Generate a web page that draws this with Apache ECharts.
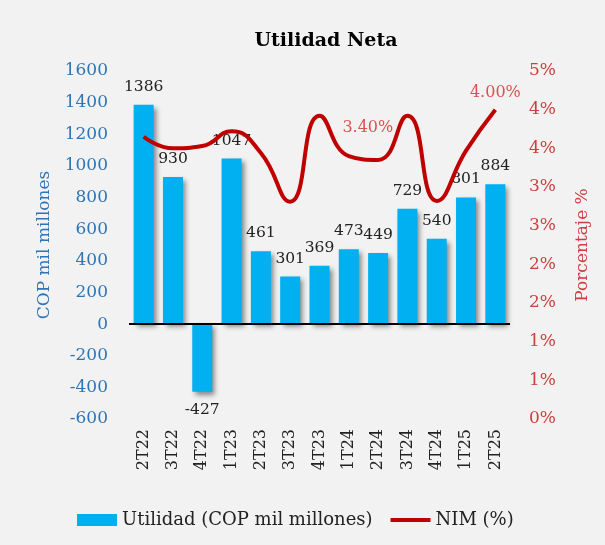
<!DOCTYPE html>
<html>
<head>
<meta charset="utf-8">
<script src="https://cdn.jsdelivr.net/npm/echarts@6/dist/echarts.min.js"></script>
<style>
  html, body { margin: 0; padding: 0; background: #f2f2f2; }
  #chart { width: 605px; height: 545px; }
</style>
</head>
<body>
<div id="chart"></div>
<script>
// datos
const categories = ['2T22', '3T22', '4T22', '1T23', '2T23', '3T23', '4T23', '1T24', '2T24', '3T24', '4T24', '1T25', '2T25']
const utilidad = [1386, 930, -427, 1047, 461, 301, 369, 473, 449, 729, 540, 801, 884]
const nim = [3.65, 3.50, 3.53, 3.72, 3.44, 2.81, 3.92, 3.40, 3.35, 3.92, 2.82, 3.47, 4.00]
const nimLabelIdx = [7, 12] // solo estos puntos llevan etiqueta
const leftAxis = { min: -600, max: 1600, interval: 200 }
const rightAxis = { min: 0, max: 4.5, interval: 0.5 }

const serif = 'DejaVu Serif'
const chart = echarts.init(document.getElementById('chart'))

const barData = utilidad.map(v => ({
  value: v,
  label: { position: v < 0 ? 'bottom' : 'top' }
}))

const lineLabelOffset = { 7: [19, -15], 12: [0, -4] }
const lineData = nim.map((v, i) => {
  const item = { value: v }
  if (nimLabelIdx.includes(i)) {
    item.label = { show: true, offset: lineLabelOffset[i] }
  }
  return item
})

const option = {
  backgroundColor: '#f2f2f2',
  animation: false,
  title: {
    text: 'Utilidad Neta',
    left: 321,
    top: 27,
    textAlign: 'center',
    textStyle: { fontFamily: serif, fontSize: 19, fontWeight: 'bold', color: '#000' }
  },
  legend: {
    left: 72,
    top: 506,
    itemGap: 16,
    itemWidth: 40,
    itemHeight: 12,
    textStyle: { fontFamily: serif, fontSize: 18, color: '#222' },
    data: [
      { name: 'Utilidad (COP mil millones)', icon: 'rect' },
      { name: 'NIM (%)', itemStyle: { opacity: 0 }, lineStyle: { width: 4 } }
    ]
  },
  grid: { left: 129, right: 95, top: 71, bottom: 126 },
  xAxis: {
    type: 'category',
    data: categories,
    axisLine: { show: false },
    axisTick: { show: false },
    axisLabel: {
      rotate: 90,
      margin: 10,
      fontFamily: serif,
      fontSize: 16,
      color: '#222'
    }
  },
  yAxis: [
    {
      type: 'value',
      min: leftAxis.min,
      max: leftAxis.max,
      interval: leftAxis.interval,
      name: 'COP mil millones',
      nameLocation: 'middle',
      nameGap: 76,
      nameTextStyle: { fontFamily: serif, fontSize: 17, color: '#2e75b6' },
      splitLine: { show: false },
      axisLine: { show: false },
      axisTick: { show: false },
      axisLabel: {
        margin: 21,
        fontFamily: serif,
        fontSize: 17,
        color: '#2e75b6',
        formatter: v => String(v)
      }
    },
    {
      type: 'value',
      min: rightAxis.min,
      max: rightAxis.max,
      interval: rightAxis.interval,
      name: 'Porcentaje %',
      nameLocation: 'middle',
      nameGap: 64,
      nameRotate: 90,
      nameTextStyle: { fontFamily: serif, fontSize: 17, color: '#c9403f' },
      splitLine: { show: false },
      axisLine: { show: false },
      axisTick: { show: false },
      axisLabel: {
        margin: 19,
        fontFamily: serif,
        fontSize: 17,
        color: '#c9403f',
        formatter: v => Math.round(v) + '%'
      }
    }
  ],
  series: [
    {
      name: 'Utilidad (COP mil millones)',
      type: 'bar',
      data: barData,
      barWidth: 20,
      itemStyle: {
        color: '#00b0f0',
        shadowBlur: 5,
        shadowColor: 'rgba(0,0,0,0.45)',
        shadowOffsetX: 3,
        shadowOffsetY: 3
      },
      label: {
        show: true,
        distance: 10,
        fontFamily: serif,
        fontSize: 15.5,
        color: '#222'
      },
      markLine: {
        silent: true,
        symbol: 'none',
        label: { show: false },
        lineStyle: { color: '#000', width: 2, type: 'solid' },
        data: [{ yAxis: 0 }]
      },
      z: 2
    },
    {
      name: 'NIM (%)',
      type: 'line',
      yAxisIndex: 1,
      data: lineData,
      smooth: 0.5,
      symbol: 'circle',
      symbolSize: 0.1,
      showSymbol: true,
      lineStyle: { color: '#c00000', width: 4 },
      itemStyle: { color: '#c00000' },
      label: {
        show: false,
        position: 'top',
        fontFamily: serif,
        fontSize: 16,
        color: '#d9534f',
        formatter: p => p.value.toFixed(2) + '%'
      },
      z: 3
    }
  ]
}

chart.setOption(option)
</script>
</body>
</html>
